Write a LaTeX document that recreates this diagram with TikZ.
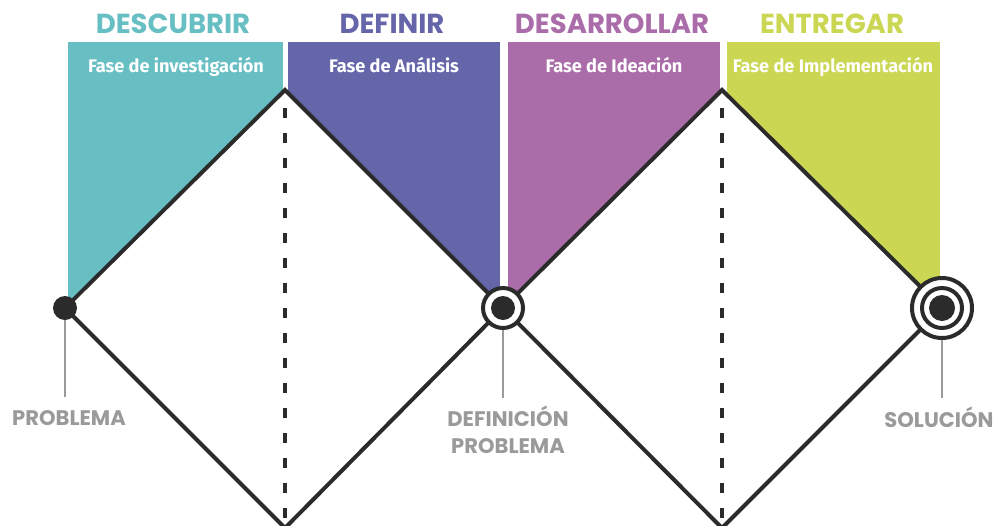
\documentclass[tikz,border=0pt]{standalone}
\usepackage{fontspec}
\newfontfamily\headfont{Poppins}
\newfontfamily\phasefont{Fira Sans}
\definecolor{ink}{HTML}{2B2B2B}
\definecolor{labelgray}{HTML}{9A9A9A}
\definecolor{descubrir}{HTML}{67BFC4}
\definecolor{definir}{HTML}{6566AA}
\definecolor{desarrollar}{HTML}{AA6DA9}
\definecolor{entregar}{HTML}{CBD753}
\begin{document}
\begin{tikzpicture}[x=0.03cm,y=-0.03cm,
    edge/.style={line width=3.4pt,draw=ink,line join=miter},
    dashline/.style={line width=3.4pt,draw=ink,dash pattern=on 3mm off 4.5mm},
    stem/.style={line width=1.6pt,draw=labelgray},
    head/.style={font=\headfont\bfseries\fontsize{23.5}{26}\selectfont,anchor=base,inner sep=0},
    phase/.style={font=\phasefont\bfseries\fontsize{15.5}{18}\selectfont,text=white,anchor=base,inner sep=0},
    milestone/.style={font=\headfont\bfseries\fontsize{18}{23}\selectfont,text=labelgray,align=center,anchor=base,inner sep=0},
    dot/.style={circle,fill=ink,inner sep=0,minimum size=7.2mm},
    ring/.style={circle,draw=ink,line width=3.4pt,fill=white,inner sep=0}]
  \useasboundingbox (0,0) rectangle (996,526);
  % corners of the double diamond
  \coordinate (p) at (65,308);
  \coordinate (t1) at (285,90);
  \coordinate (b1) at (285,528);
  \coordinate (m) at (503,308);
  \coordinate (t2) at (722,90);
  \coordinate (b2) at (722,528);
  \coordinate (s) at (942,308);
  % phase panels
  \fill[descubrir] (68,42) rectangle (283,308);
  \fill[definir] (288,42) rectangle (500,308);
  \fill[desarrollar] (508,42) rectangle (720,308);
  \fill[entregar] (727,42) rectangle (940,308);
  \fill[white] (p) -- (t1) -- (m) -- (b1) -- cycle;
  \fill[white] (m) -- (t2) -- (s) -- (b2) -- cycle;
  \node[head,text=descubrir] (hdesc) at (173,33) {DESCUBRIR};
  \node[head,text=definir] (hdef) at (392,33) {DEFINIR};
  \node[head,text=desarrollar] (hdes) at (612,33) {DESARROLLAR};
  \node[head,text=entregar] (hent) at (832,33) {ENTREGAR};
  \node[phase] (finv) at (176,72) {Fase de investigación};
  \node[phase] (fana) at (394,72) {Fase de Análisis};
  \node[phase] (fide) at (614,72) {Fase de Ideación};
  \node[phase] (fimp) at (833,72) {Fase de Implementación};
  % dashed middles
  \coordinate (d1a) at (285,108);
  \coordinate (d1b) at (285,526);
  \coordinate (d2a) at (722,108);
  \coordinate (d2b) at (722,526);
  \draw[dashline] (d1a) -- (d1b);
  \draw[dashline] (d2a) -- (d2b);
  \draw[edge] (p) -- (t1) -- (m) -- (t2) -- (s);
  \draw[edge] (p) -- (b1) -- (m) -- (b2) -- (s);
  % labels and stems
  \node[milestone] (lprob) at (69,425) {PROBLEMA};
  \node[milestone] (ldef) at (508,453) {DEFINICIÓN\\PROBLEMA};
  \node[milestone] (lsol) at (939,427) {SOLUCIÓN};
  \coordinate (ep) at (65,397);
  \coordinate (em) at (503,398);
  \coordinate (es) at (942,398);
  \draw[stem] (p) -- (ep);
  \draw[stem] (m) -- (em);
  \draw[stem] (s) -- (es);
  \node[dot] (start) at (p) {};
  \node[ring,minimum size=12mm] (midring) at (m) {};
  \node[dot] (middot) at (m) {};
  \node[ring,minimum size=18mm] (endouter) at (s) {};
  \node[ring,minimum size=12mm] (endinner) at (s) {};
  \node[dot,minimum size=7.8mm] (enddot) at (s) {};
\end{tikzpicture}
\end{document}
